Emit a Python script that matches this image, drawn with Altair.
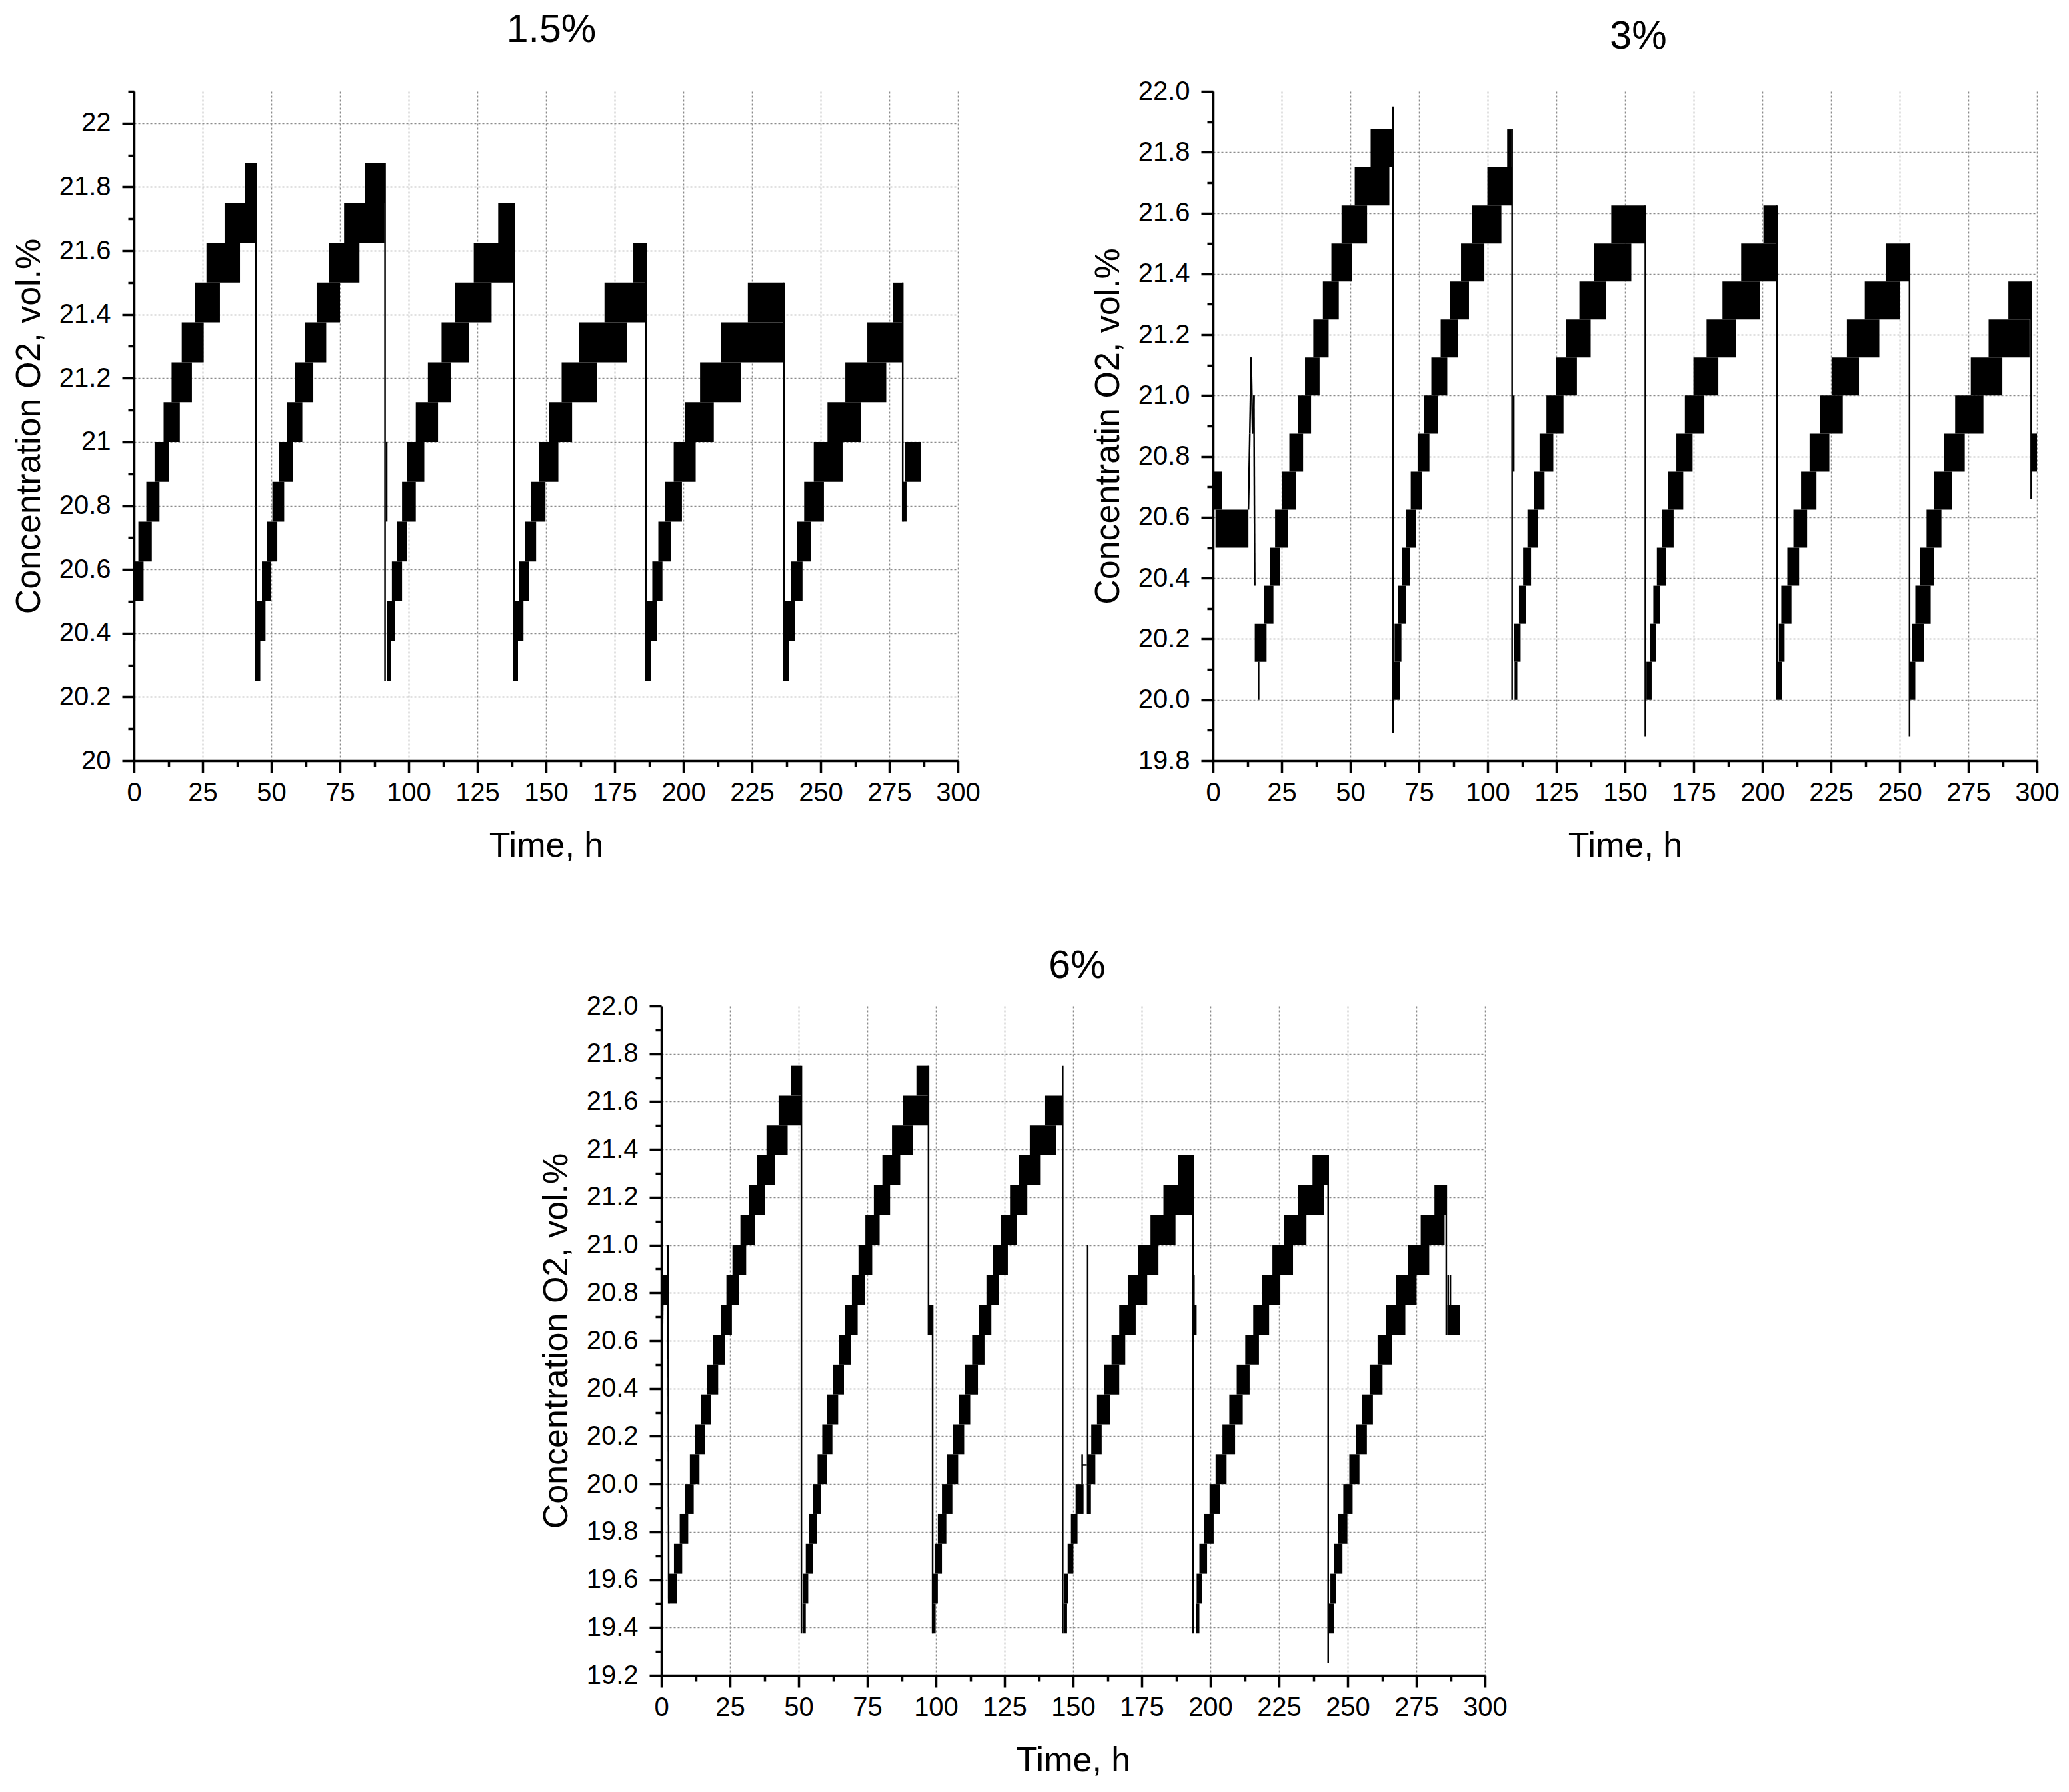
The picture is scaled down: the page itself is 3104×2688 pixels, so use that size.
import altair as alt
import pandas as pd

# ── Data: quantised O2 readings drawn as step blocks (t0, t1, lower level) ──
STEP = 0.125  # sensor resolution, each block spans lo .. lo + STEP

blocks_15 = [
    (0.0, 0.5, 20.375), (0.0, 3.5, 20.5), (1.6, 6.5, 20.625), (4.5, 9.3, 20.75),
    (7.5, 12.7, 20.875), (10.8, 16.7, 21.0), (13.7, 21.1, 21.125), (17.4, 25.4, 21.25),
    (22.1, 31.3, 21.375), (26.4, 38.6, 21.5), (33.0, 44.4, 21.625), (40.5, 44.4, 21.75),
    (44.5, 46.0, 20.25), (44.8, 47.9, 20.375), (46.6, 49.8, 20.5), (48.5, 52.2, 20.625),
    (50.4, 54.7, 20.75), (52.9, 57.8, 20.875), (55.7, 61.3, 21.0), (58.7, 65.3, 21.125),
    (62.2, 70.0, 21.25), (66.5, 75.0, 21.375), (71.1, 82.1, 21.5), (76.5, 91.2, 21.625),
    (84.0, 91.4, 21.75),
    (92.0, 93.5, 20.25), (92.0, 95.1, 20.375), (93.9, 97.6, 20.5), (95.8, 99.5, 20.625),
    (97.6, 102.6, 20.75), (99.5, 105.7, 20.875), (102.6, 110.7, 21.0), (107.0, 115.4, 21.125),
    (112.0, 121.9, 21.25), (116.9, 130.2, 21.375), (123.7, 138.2, 21.5), (132.6, 138.3, 21.625),
    (138.3, 139.8, 20.25), (138.3, 141.8, 20.375), (140.2, 143.9, 20.5), (142.3, 146.4, 20.625),
    (144.5, 149.8, 20.75), (147.4, 154.5, 20.875), (151.1, 159.5, 21.0), (155.7, 168.5, 21.125),
    (161.9, 179.4, 21.25), (171.3, 186.4, 21.375), (181.8, 186.4, 21.5),
    (186.6, 188.3, 20.25), (186.8, 190.5, 20.375), (188.7, 192.4, 20.5), (190.9, 195.5, 20.625),
    (193.4, 199.5, 20.75), (196.5, 204.5, 20.875), (200.5, 211.1, 21.0), (206.1, 221.0, 21.125),
    (213.6, 236.6, 21.25), (223.5, 236.6, 21.375),
    (236.8, 238.4, 20.25), (236.8, 240.6, 20.375), (239.1, 243.4, 20.5), (241.5, 246.5, 20.625),
    (244.0, 251.2, 20.75), (247.5, 258.0, 20.875), (252.5, 264.8, 21.0), (259.0, 273.9, 21.125),
    (267.0, 279.9, 21.25), (276.4, 279.9, 21.375),
    (279.9, 281.3, 20.75), (280.7, 286.6, 20.875),
]

# thin traces (t0, v0, t1, v1): resets and spikes
traces_15 = [
    (0.2, 20.375, 0.2, 20.625),
    (44.4, 20.25, 44.4, 21.875),
    (91.4, 20.25, 91.4, 21.875), (92.0, 20.75, 92.0, 21.0),
    (138.3, 20.25, 138.3, 21.75),
    (186.4, 20.25, 186.4, 21.625),
    (236.6, 20.25, 236.6, 21.5),
    (279.9, 20.75, 279.9, 21.5),
]

blocks_3 = [
    (0.0, 3.4, 20.625), (0.9, 12.9, 20.5),
    (15.2, 19.5, 20.125), (18.6, 22.0, 20.25), (20.7, 24.5, 20.375), (22.6, 27.2, 20.5),
    (25.1, 30.1, 20.625), (27.8, 32.8, 20.75), (30.9, 35.7, 20.875), (33.5, 38.8, 21.0),
    (36.5, 42.1, 21.125), (40.0, 45.8, 21.25), (43.1, 50.6, 21.375), (46.8, 56.1, 21.5),
    (51.6, 64.2, 21.625), (57.4, 65.5, 21.75),
    (65.7, 68.2, 20.0), (66.1, 68.6, 20.125), (67.3, 70.2, 20.25), (68.9, 71.7, 20.375),
    (70.2, 73.8, 20.5), (72.0, 76.0, 20.625), (74.5, 78.8, 20.75), (76.9, 81.9, 20.875),
    (79.5, 85.3, 21.0), (82.9, 89.3, 21.125), (86.2, 93.2, 21.25), (90.3, 98.8, 21.375),
    (94.4, 105.0, 21.5), (99.9, 108.9, 21.625), (107.1, 108.7, 21.75),
    (109.8, 110.8, 20.0), (109.6, 112.0, 20.125), (111.4, 113.9, 20.25), (112.9, 115.8, 20.375),
    (114.5, 118.3, 20.5), (116.8, 120.7, 20.625), (118.9, 123.9, 20.75), (121.4, 127.6, 20.875),
    (124.8, 132.5, 21.0), (128.6, 137.5, 21.125), (133.4, 143.1, 21.25), (138.6, 152.3, 21.375),
    (145.0, 157.4, 21.5),
    (157.8, 159.7, 20.0), (159.0, 161.3, 20.125), (160.3, 162.8, 20.25), (161.6, 165.0, 20.375),
    (163.4, 167.7, 20.5), (165.6, 171.2, 20.625), (168.7, 174.6, 20.75), (171.8, 178.9, 20.875),
    (174.9, 184.0, 21.0), (179.7, 190.5, 21.125), (185.5, 199.2, 21.25), (192.3, 205.4, 21.375),
    (200.4, 205.4, 21.5),
    (205.6, 207.1, 20.0), (206.0, 208.1, 20.125), (206.9, 210.6, 20.25), (209.1, 213.4, 20.375),
    (211.3, 216.3, 20.5), (214.1, 219.7, 20.625), (217.2, 224.4, 20.75), (220.9, 229.3, 20.875),
    (225.2, 235.2, 21.0), (230.8, 242.6, 21.125), (237.3, 250.1, 21.25), (244.9, 253.6, 21.375),
    (253.8, 255.7, 20.0), (254.4, 258.8, 20.125), (255.7, 261.3, 20.25), (257.5, 262.5, 20.375),
    (259.8, 265.2, 20.5), (262.5, 269.0, 20.625), (266.2, 273.7, 20.75), (270.2, 280.5, 20.875),
    (275.9, 287.4, 21.0), (282.4, 297.3, 21.125), (289.6, 297.9, 21.25),
    (298.2, 300.0, 20.75),
]

traces_3 = [
    (12.9, 20.625, 13.4, 20.875), (13.4, 20.875, 13.9, 21.125), (13.9, 21.125, 14.4, 20.875),
    (14.4, 20.875, 14.9, 21.0), (14.9, 21.0, 15.2, 20.375),
    (16.6, 20.0, 16.6, 20.125),
    (65.5, 19.89, 65.5, 21.95),
    (108.9, 20.0, 108.9, 21.875), (109.5, 20.75, 109.5, 21.0),
    (157.4, 19.88, 157.4, 21.625),
    (205.4, 20.0, 205.4, 21.625),
    (253.6, 19.88, 253.6, 21.5),
    (297.9, 20.66, 297.9, 21.375),
]

blocks_6 = [
    (0.5, 2.1, 20.75),
    (2.7, 5.8, 19.5), (4.6, 7.6, 19.625), (6.7, 9.8, 19.75), (8.6, 11.8, 19.875),
    (10.4, 13.9, 20.0), (12.3, 16.0, 20.125), (14.5, 18.2, 20.25), (16.6, 20.7, 20.375),
    (18.9, 23.2, 20.5), (21.6, 25.7, 20.625), (23.7, 28.2, 20.75), (25.9, 30.9, 20.875),
    (28.8, 34.0, 21.0), (31.9, 37.7, 21.125), (34.9, 41.4, 21.25), (38.3, 46.0, 21.375),
    (42.7, 51.0, 21.5), (47.3, 51.0, 21.625),
    (51.4, 52.6, 19.375), (51.6, 53.5, 19.5), (52.6, 55.1, 19.625), (53.8, 56.6, 19.75),
    (55.1, 58.2, 19.875), (56.9, 60.3, 20.0), (58.6, 62.3, 20.125), (60.4, 64.4, 20.25),
    (62.5, 66.5, 20.375), (64.8, 69.0, 20.5), (66.9, 71.5, 20.625), (69.4, 74.1, 20.75),
    (71.8, 76.8, 20.875), (74.3, 79.5, 21.0), (77.4, 83.3, 21.125), (80.5, 87.0, 21.25),
    (84.0, 91.7, 21.375), (88.0, 97.3, 21.5), (92.9, 97.3, 21.625),
    (97.3, 98.8, 20.625),
    (98.6, 99.9, 19.375), (98.9, 100.7, 19.5), (99.5, 102.2, 19.625), (100.7, 103.8, 19.75),
    (102.2, 106.0, 19.875), (104.1, 108.1, 20.0), (106.2, 110.3, 20.125), (108.4, 112.5, 20.25),
    (110.5, 115.3, 20.375), (113.2, 117.7, 20.5), (115.6, 120.2, 20.625), (118.4, 123.0, 20.75),
    (120.8, 126.2, 20.875), (123.7, 129.5, 21.0), (127.0, 133.3, 21.125), (130.1, 138.2, 21.25),
    (134.2, 143.8, 21.375), (139.8, 146.2, 21.5),
    (146.5, 147.8, 19.375), (146.7, 148.2, 19.5), (148.0, 150.1, 19.625), (149.2, 151.6, 19.75),
    (150.9, 153.8, 19.875), (155.3, 156.5, 19.875), (155.3, 158.1, 20.0), (156.6, 160.4, 20.125),
    (158.7, 163.5, 20.25), (161.2, 166.8, 20.375), (164.0, 169.0, 20.5), (166.8, 172.8, 20.625),
    (169.9, 177.0, 20.75), (173.6, 181.1, 20.875), (178.2, 187.3, 21.0), (182.9, 193.5, 21.125),
    (188.3, 193.7, 21.25),
    (193.7, 195.0, 20.625),
    (194.7, 196.0, 19.375), (195.0, 197.0, 19.5), (196.0, 198.8, 19.625), (197.6, 201.2, 19.75),
    (199.7, 203.4, 19.875), (201.9, 205.9, 20.0), (204.4, 209.0, 20.125), (206.9, 211.8, 20.25),
    (209.6, 214.3, 20.375), (212.7, 217.7, 20.5), (215.6, 221.4, 20.625), (218.9, 225.5, 20.75),
    (222.6, 230.1, 20.875), (226.7, 235.0, 21.0), (231.9, 241.3, 21.125), (237.2, 242.9, 21.25),
    (243.1, 245.0, 19.375), (243.7, 245.8, 19.5), (245.0, 248.1, 19.625), (246.6, 249.9, 19.75),
    (248.4, 251.8, 19.875), (250.6, 254.3, 20.0), (253.0, 257.0, 20.125), (255.3, 259.2, 20.25),
    (258.0, 262.7, 20.375), (260.9, 266.1, 20.5), (264.0, 271.0, 20.625), (267.7, 275.1, 20.75),
    (272.0, 279.7, 20.875), (276.6, 285.3, 21.0), (281.6, 285.9, 21.125),
    (286.3, 290.9, 20.625),
]

traces_6 = [
    (0.2, 20.4, 0.5, 20.75), (2.1, 20.75, 2.4, 21.0), (2.4, 21.0, 2.7, 19.5),
    (51.0, 19.375, 51.0, 21.75),
    (97.3, 20.625, 97.3, 21.75), (98.8, 19.375, 98.8, 20.75),
    (146.2, 19.375, 146.2, 21.75),
    (153.3, 20.0, 153.3, 20.125), (153.3, 20.08, 155.0, 20.08), (155.3, 19.875, 155.3, 21.0),
    (193.7, 19.375, 193.7, 21.375), (194.0, 20.625, 194.0, 20.875),
    (242.9, 19.25, 242.9, 21.375),
    (285.9, 20.625, 285.9, 21.25), (286.6, 20.625, 286.6, 20.875), (287.4, 20.625, 287.4, 20.875),
]

# ── Ticks ─────────────────────────────────────────────────────────────────────
x_ticks = [0, 12.5, 25, 37.5, 50, 62.5, 75, 87.5, 100, 112.5, 125, 137.5, 150,
           162.5, 175, 187.5, 200, 212.5, 225, 237.5, 250, 262.5, 275, 287.5, 300]
y_ticks_15 = [20.0, 20.1, 20.2, 20.3, 20.4, 20.5, 20.6, 20.7, 20.8, 20.9, 21.0,
              21.1, 21.2, 21.3, 21.4, 21.5, 21.6, 21.7, 21.8, 21.9, 22.0, 22.1]
y_ticks_3 = [19.8, 19.9, 20.0, 20.1, 20.2, 20.3, 20.4, 20.5, 20.6, 20.7, 20.8, 20.9,
             21.0, 21.1, 21.2, 21.3, 21.4, 21.5, 21.6, 21.7, 21.8, 21.9, 22.0]
y_ticks_6 = [19.2, 19.3, 19.4, 19.5, 19.6, 19.7, 19.8, 19.9, 20.0, 20.1, 20.2, 20.3,
             20.4, 20.5, 20.6, 20.7, 20.8, 20.9, 21.0, 21.1, 21.2, 21.3, 21.4, 21.5,
             21.6, 21.7, 21.8, 21.9, 22.0]

FONT = "Liberation Sans"
W, H = 1236, 1004
X_MINOR = "datum.value % 25 != 0"
Y_MINOR = "round(datum.value * 10) % 2 != 0"


def axis(values, minor_test, grid_off, title, label_expr, label_pad, title_pad):
    return alt.Axis(
        values=values,
        title=title,
        labelExpr=label_expr,
        tickSize={"condition": {"test": minor_test, "value": 9}, "value": 18},
        gridOpacity={"condition": {"test": grid_off, "value": 0}, "value": 1},
        labelPadding=label_pad,
        titlePadding=title_pad,
    )


def panel(blocks, traces, title, title_offset, title_dx, y_domain, y_ticks, y_fmt, y_title):
    bdf = pd.DataFrame(blocks, columns=["t0", "t1", "lo"])
    bdf["hi"] = bdf["lo"] + STEP
    tdf = pd.DataFrame(traces, columns=["t0", "lo", "t1", "hi"])

    xs = alt.Scale(domain=[0, 300], nice=False, zero=False)
    ys = alt.Scale(domain=y_domain, nice=False, zero=False)

    x_ax = axis(x_ticks, X_MINOR, X_MINOR, "Time, h",
                f"{X_MINOR} ? '' : format(datum.value, 'd')", 10, 34)
    y_grid_off = f"{Y_MINOR} || datum.value > {y_domain[1]} - 0.01"
    y_ax = axis(y_ticks, Y_MINOR, y_grid_off, y_title,
                f"{Y_MINOR} ? '' : format(datum.value, '{y_fmt}')", 17, 18)

    enc = dict(
        x=alt.X("t0:Q", scale=xs, axis=x_ax),
        x2="t1",
        y=alt.Y("lo:Q", scale=ys, axis=y_ax),
        y2="hi",
    )
    rects = alt.Chart(bdf).mark_rect(color="black").encode(**enc)
    lines = alt.Chart(tdf).mark_rule(color="black", strokeWidth=2.5).encode(**enc)
    return (rects + lines).properties(
        width=W,
        height=H,
        title=alt.TitleParams(
            text=title, fontSize=59, font=FONT, fontWeight="normal",
            color="black", frame="group", offset=title_offset, dx=title_dx,
        ),
    )


p15 = panel(blocks_15, traces_15, "1.5%", 42, 8, [20.0, 22.1], y_ticks_15, ".1~f",
            "Concentration O2, vol.%")
p3 = panel(blocks_3, traces_3, "3%", 32, 20, [19.8, 22.0], y_ticks_3, ".1f",
           "Concentratin O2, vol.%")
p6 = panel(blocks_6, traces_6, "6%", 10, 6, [19.2, 22.0], y_ticks_6, ".1f",
           "Concentration O2, vol.%")

# invisible spacer that pushes the lower panel to its place under the top row
spacer = (
    alt.Chart(pd.DataFrame({"a": [0]}))
    .mark_point(opacity=0)
    .encode(x=alt.X("a:Q", axis=None), y=alt.Y("a:Q", axis=None))
    .properties(width=607, height=10)
)

top = alt.hconcat(p15, p3, spacing=165)
bottom = alt.hconcat(spacer, p6, spacing=0)
chart = (
    alt.vconcat(top, bottom, spacing=126)
    .configure(background="white", padding={"left": 9, "top": 8, "right": 5, "bottom": 0})
    .configure_view(stroke=None)
    .configure_axis(
        labelFont=FONT,
        titleFont=FONT,
        labelFontSize=40,
        titleFontSize=52,
        titleFontWeight="normal",
        labelColor="black",
        titleColor="black",
        domainColor="black",
        domainWidth=3.5,
        tickColor="black",
        tickWidth=3.5,
        gridColor="#8c8c8c",
        gridDash=[3, 3],
        gridWidth=1.5,
        labelFlush=False,
        labelOverlap=False,
    )
)

chart.save("out.html", embed_options={"renderer": "svg", "actions": False})
